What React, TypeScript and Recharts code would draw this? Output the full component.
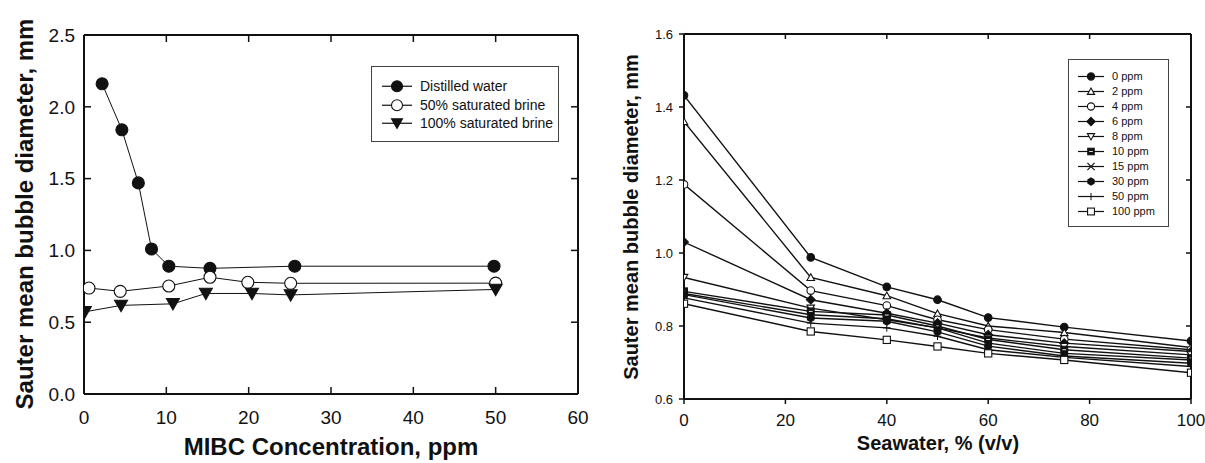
import React from "react";
import { LineChart, Line, XAxis, YAxis, Legend } from "recharts";

const FONT = '"Liberation Sans", Arial, Helvetica, sans-serif';
const INK = "#111";

// Left panel: bubble size vs MIBC concentration
const distilledConc = [2.2, 4.6, 6.6, 8.2, 10.3, 15.3, 25.6, 49.8];
const distilledDia = [2.16, 1.84, 1.47, 1.01, 0.89, 0.875, 0.89, 0.89];
const brine50Conc = [0.6, 4.4, 10.3, 15.3, 19.9, 25.1, 50.0];
const brine50Dia = [0.738, 0.715, 0.752, 0.813, 0.778, 0.771, 0.772];
const brine100Conc = [0.1, 4.5, 10.8, 14.8, 20.4, 25.1, 50.0];
const brine100Dia = [0.572, 0.617, 0.628, 0.7, 0.7, 0.69, 0.728];
const mibcTicks = [0, 10, 20, 30, 40, 50, 60];
const leftDiaTicks = [0, 0.5, 1.0, 1.5, 2.0, 2.5];

// Right panel: bubble size vs seawater fraction, one line per MIBC dose
const seawaterPct = [0, 25, 40, 50, 60, 75, 100];
const d0ppm = [1.432, 0.988, 0.907, 0.872, 0.823, 0.797, 0.759];
const d2ppm = [1.36, 0.933, 0.883, 0.834, 0.8, 0.782, 0.741];
const d4ppm = [1.188, 0.897, 0.856, 0.817, 0.79, 0.764, 0.735];
const d6ppm = [1.03, 0.872, 0.835, 0.808, 0.776, 0.753, 0.73];
const d8ppm = [0.933, 0.849, 0.817, 0.795, 0.767, 0.744, 0.721];
const d10ppm = [0.895, 0.84, 0.83, 0.8, 0.763, 0.735, 0.712];
const d15ppm = [0.889, 0.831, 0.82, 0.795, 0.753, 0.725, 0.707];
const d30ppm = [0.886, 0.822, 0.813, 0.784, 0.745, 0.718, 0.698];
const d50ppm = [0.877, 0.808, 0.795, 0.772, 0.735, 0.714, 0.689];
const d100ppm = [0.861, 0.785, 0.762, 0.744, 0.725, 0.707, 0.672];
const seawaterTicks = [0, 20, 40, 60, 80, 100];
const rightDiaTicks = [0.6, 0.8, 1.0, 1.2, 1.4, 1.6];

type Shape =
  | "circle"
  | "openCircle"
  | "triDown"
  | "triUp"
  | "openTriDown"
  | "diamond"
  | "crossSquare"
  | "x"
  | "hexagon"
  | "plus"
  | "openSquare";

const leftSeries = [
  { key: "distilled", name: "Distilled water", shape: "circle" as Shape, xs: distilledConc, ys: distilledDia },
  { key: "brine50", name: "50% saturated brine", shape: "openCircle" as Shape, xs: brine50Conc, ys: brine50Dia },
  { key: "brine100", name: "100% saturated brine", shape: "triDown" as Shape, xs: brine100Conc, ys: brine100Dia },
];

const rightSeries = [
  { key: "p0", name: "0 ppm", shape: "circle" as Shape, ys: d0ppm },
  { key: "p2", name: "2 ppm", shape: "triUp" as Shape, ys: d2ppm },
  { key: "p4", name: "4 ppm", shape: "openCircle" as Shape, ys: d4ppm },
  { key: "p6", name: "6 ppm", shape: "diamond" as Shape, ys: d6ppm },
  { key: "p8", name: "8 ppm", shape: "openTriDown" as Shape, ys: d8ppm },
  { key: "p10", name: "10 ppm", shape: "crossSquare" as Shape, ys: d10ppm },
  { key: "p15", name: "15 ppm", shape: "x" as Shape, ys: d15ppm },
  { key: "p30", name: "30 ppm", shape: "hexagon" as Shape, ys: d30ppm },
  { key: "p50", name: "50 ppm", shape: "plus" as Shape, ys: d50ppm },
  { key: "p100", name: "100 ppm", shape: "openSquare" as Shape, ys: d100ppm },
];

const rightRows = seawaterPct.map((x, i) => {
  const row: Record<string, number> = { x };
  rightSeries.forEach((s) => (row[s.key] = s.ys[i]));
  return row;
});

function marker(shape: Shape, cx: number, cy: number, s: number, key?: string | number) {
  const sw = 1.1;
  switch (shape) {
    case "circle":
      return <circle key={key} cx={cx} cy={cy} r={s} fill={INK} stroke={INK} strokeWidth={sw} />;
    case "openCircle":
      return <circle key={key} cx={cx} cy={cy} r={s} fill="#fff" stroke={INK} strokeWidth={sw} />;
    case "triDown":
      return (
        <polygon key={key} points={`${cx - s},${cy - s * 0.8} ${cx + s},${cy - s * 0.8} ${cx},${cy + s * 0.95}`} fill={INK} stroke={INK} strokeWidth={sw} />
      );
    case "openTriDown":
      return (
        <polygon key={key} points={`${cx - s},${cy - s * 0.8} ${cx + s},${cy - s * 0.8} ${cx},${cy + s * 0.95}`} fill="#fff" stroke={INK} strokeWidth={sw} />
      );
    case "triUp":
      return (
        <polygon key={key} points={`${cx},${cy - s * 0.95} ${cx + s},${cy + s * 0.8} ${cx - s},${cy + s * 0.8}`} fill="#fff" stroke={INK} strokeWidth={sw} />
      );
    case "diamond":
      return (
        <polygon key={key} points={`${cx},${cy - s * 1.15} ${cx + s * 1.15},${cy} ${cx},${cy + s * 1.15} ${cx - s * 1.15},${cy}`} fill={INK} stroke={INK} strokeWidth={sw} />
      );
    case "crossSquare":
      return (
        <g key={key}>
          <rect x={cx - s * 0.9} y={cy - s * 0.9} width={s * 1.8} height={s * 1.8} fill={INK} stroke={INK} strokeWidth={sw} />
          <line x1={cx - s * 0.5} x2={cx + s * 0.5} y1={cy} y2={cy} stroke="#fff" strokeWidth={0.9} />
        </g>
      );
    case "x":
      return (
        <g key={key} stroke={INK} strokeWidth={1.2}>
          <line x1={cx - s} y1={cy - s} x2={cx + s} y2={cy + s} />
          <line x1={cx - s} y1={cy + s} x2={cx + s} y2={cy - s} />
        </g>
      );
    case "hexagon": {
      const pts = [0, 1, 2, 3, 4, 5]
        .map((k) => {
          const a = (Math.PI / 3) * k + Math.PI / 6;
          return `${cx + s * Math.cos(a)},${cy + s * Math.sin(a)}`;
        })
        .join(" ");
      return <polygon key={key} points={pts} fill={INK} stroke={INK} strokeWidth={sw} />;
    }
    case "plus":
      return (
        <g key={key} stroke={INK} strokeWidth={1}>
          <line x1={cx - s} y1={cy} x2={cx + s} y2={cy} />
          <line x1={cx} y1={cy - s} x2={cx} y2={cy + s} />
        </g>
      );
    case "openSquare":
      return <rect key={key} x={cx - s * 0.95} y={cy - s * 0.95} width={s * 1.9} height={s * 1.9} fill="#fff" stroke={INK} strokeWidth={sw} />;
  }
}

type LegendOpts = {
  series: { key: string; name: string; shape: Shape }[];
  width: number;
  height: number;
  padTop: number;
  padLeft: number;
  rowH: number;
  lineW: number;
  gap: number;
  fontSize: number;
  size: number;
};

function makeLegend(o: LegendOpts) {
  return (props: any) => {
    const payload: any[] = props.payload || [];
    const order = o.series.map((s) => s.key);
    const items = payload
      .filter((e) => order.includes(e.dataKey))
      .sort((a, b) => order.indexOf(a.dataKey) - order.indexOf(b.dataKey));
    return (
      <div
        style={{
          boxSizing: "border-box",
          width: o.width,
          height: o.height,
          border: "1px solid #444",
          background: "#fff",
          paddingTop: o.padTop,
          paddingLeft: o.padLeft,
          fontFamily: FONT,
          fontSize: o.fontSize,
          color: INK,
        }}
      >
        {items.map((entry) => {
          const s = o.series.find((q) => q.key === entry.dataKey)!;
          return (
            <div key={s.key} style={{ display: "flex", alignItems: "center", height: o.rowH }}>
              <svg width={o.lineW} height={o.rowH} style={{ display: "block", flex: "none" }}>
                <line x1={0} x2={o.lineW} y1={o.rowH / 2} y2={o.rowH / 2} stroke={INK} strokeWidth={1.2} />
                {marker(s.shape, o.lineW / 2, o.rowH / 2, o.size)}
              </svg>
              <span style={{ marginLeft: o.gap, whiteSpace: "nowrap", lineHeight: 1 }}>{entry.value}</span>
            </div>
          );
        })}
      </div>
    );
  };
}

const axisLine = { stroke: INK, strokeWidth: 2 };
const tickLine = { stroke: INK, strokeWidth: 1.5 };
const blank = () => "";

function MibcPanel() {
  const frameData = distilledConc.map((x, i) => ({ x, frame: distilledDia[i] }));
  return (
    <LineChart width={600} height={463} margin={{ top: 34, right: 21, bottom: 0, left: 0 }}>
      <XAxis
        xAxisId="b"
        type="number"
        dataKey="x"
        domain={[0, 60]}
        ticks={mibcTicks}
        allowDataOverflow
        height={69}
        axisLine={axisLine}
        tickLine={tickLine}
        tickSize={-7}
        tickMargin={24}
        tick={{ fill: INK, fontSize: 19, fontFamily: FONT }}
        label={{
          content: () => (
            <text x={331} y={455} textAnchor="middle" fontFamily={FONT} fontSize={24} fontWeight="bold" fill={INK}>
              MIBC Concentration, ppm
            </text>
          ),
        }}
      />
      <XAxis
        xAxisId="t"
        orientation="top"
        type="number"
        dataKey="x"
        domain={[0, 60]}
        ticks={mibcTicks}
        allowDataOverflow
        height={1}
        axisLine={axisLine}
        tickLine={tickLine}
        tickSize={-7}
        tickFormatter={blank}
      />
      <YAxis
        yAxisId="l"
        type="number"
        domain={[0, 2.5]}
        ticks={leftDiaTicks}
        allowDataOverflow
        width={84}
        axisLine={axisLine}
        tickLine={tickLine}
        tickSize={-7}
        tickMargin={16}
        tickFormatter={(v: number) => v.toFixed(1)}
        tick={{ fill: INK, fontSize: 19, fontFamily: FONT }}
        label={{
          content: () => (
            <text
              x={24}
              y={214}
              transform="rotate(-90, 24, 214)"
              textAnchor="middle"
              dominantBaseline="central"
              fontFamily={FONT}
              fontSize={24}
              fontWeight="bold"
              fill={INK}
            >
              Sauter mean bubble diameter, mm
            </text>
          ),
        }}
      />
      <YAxis
        yAxisId="r"
        orientation="right"
        type="number"
        domain={[0, 2.5]}
        ticks={leftDiaTicks}
        allowDataOverflow
        width={1}
        axisLine={axisLine}
        tickLine={tickLine}
        tickSize={-7}
        tickFormatter={blank}
      />
      {/* invisible series so the top / right frame axes get drawn */}
      <Line
        xAxisId="t"
        yAxisId="r"
        dataKey="frame"
        data={frameData}
        stroke="none"
        dot={false}
        activeDot={false}
        legendType="none"
        isAnimationActive={false}
      />
      {leftSeries.map((s) => (
        <Line
          key={s.key}
          xAxisId="b"
          yAxisId="l"
          name={s.name}
          dataKey={s.key}
          data={s.xs.map((x, i) => ({ x, [s.key]: s.ys[i] }))}
          type="linear"
          stroke={INK}
          strokeWidth={1}
          isAnimationActive={false}
          activeDot={false}
          dot={(p: any) => marker(s.shape, p.cx, p.cy, s.shape === "triDown" ? 6.5 : 6, `${s.key}-${p.index}`)}
        />
      ))}
      <Legend
        layout="vertical"
        align="center"
        verticalAlign="middle"
        wrapperStyle={{ left: 371, top: 66, width: 188, height: 76 }}
        content={makeLegend({
          series: leftSeries,
          width: 188,
          height: 76,
          padTop: 10,
          padLeft: 10,
          rowH: 18.5,
          lineW: 30,
          gap: 8,
          fontSize: 14,
          size: 5.5,
        })}
      />
    </LineChart>
  );
}

function SeawaterPanel() {
  const frameData = seawaterPct.map((x, i) => ({ x, frame: d0ppm[i] }));
  return (
    <LineChart width={605} height={463} data={rightRows} margin={{ top: 33, right: 13, bottom: 0, left: 0 }}>
      <XAxis
        xAxisId="b"
        type="number"
        dataKey="x"
        domain={[0, 100]}
        ticks={seawaterTicks}
        allowDataOverflow
        height={64}
        axisLine={axisLine}
        tickLine={tickLine}
        tickSize={5}
        tickMargin={10}
        tick={{ fill: INK, fontSize: 17, fontFamily: FONT }}
        label={{
          content: () => (
            <text x={338} y={450} textAnchor="middle" fontFamily={FONT} fontSize={20} fontWeight="bold" fill={INK}>
              Seawater, % (v/v)
            </text>
          ),
        }}
      />
      <XAxis
        xAxisId="t"
        orientation="top"
        type="number"
        dataKey="x"
        domain={[0, 100]}
        ticks={seawaterTicks}
        allowDataOverflow
        height={1}
        axisLine={axisLine}
        tickLine={tickLine}
        tickSize={-5}
        tickFormatter={blank}
      />
      <YAxis
        yAxisId="l"
        type="number"
        domain={[0.6, 1.6]}
        ticks={rightDiaTicks}
        allowDataOverflow
        width={84}
        axisLine={axisLine}
        tickLine={tickLine}
        tickSize={5}
        tickMargin={6}
        tickFormatter={(v: number) => v.toFixed(1)}
        tick={{ fill: INK, fontSize: 13, fontFamily: FONT }}
        label={{
          content: () => (
            <text
              x={31}
              y={217}
              transform="rotate(-90, 31, 217)"
              textAnchor="middle"
              dominantBaseline="central"
              fontFamily={FONT}
              fontSize={20}
              fontWeight="bold"
              fill={INK}
            >
              Sauter mean bubble diameter, mm
            </text>
          ),
        }}
      />
      <YAxis
        yAxisId="r"
        orientation="right"
        type="number"
        domain={[0.6, 1.6]}
        ticks={rightDiaTicks}
        allowDataOverflow
        width={1}
        axisLine={axisLine}
        tickLine={tickLine}
        tickSize={-5}
        tickFormatter={blank}
      />
      {/* invisible series so the top / right frame axes get drawn */}
      <Line
        xAxisId="t"
        yAxisId="r"
        dataKey="frame"
        data={frameData}
        stroke="none"
        dot={false}
        activeDot={false}
        legendType="none"
        isAnimationActive={false}
      />
      {rightSeries.map((s) => (
        <Line
          key={s.key}
          xAxisId="b"
          yAxisId="l"
          name={s.name}
          dataKey={s.key}
          type="linear"
          stroke={INK}
          strokeWidth={1.4}
          isAnimationActive={false}
          activeDot={false}
          dot={(p: any) => marker(s.shape, p.cx, p.cy, 3.8, `${s.key}-${p.index}`)}
        />
      ))}
      <Legend
        layout="vertical"
        align="center"
        verticalAlign="middle"
        wrapperStyle={{ left: 468, top: 59, width: 101, height: 168 }}
        content={makeLegend({
          series: rightSeries,
          width: 101,
          height: 168,
          padTop: 8.5,
          padLeft: 9,
          rowH: 15,
          lineW: 26,
          gap: 8,
          fontSize: 11,
          size: 3.6,
        })}
      />
    </LineChart>
  );
}

export default function App() {
  return (
    <div style={{ position: "absolute", left: 0, top: 0, width: 1205, height: 463, background: "#fff", overflow: "hidden" }}>
      <div style={{ position: "absolute", left: 0, top: 0 }}>
        <MibcPanel />
      </div>
      <div style={{ position: "absolute", left: 600, top: 0 }}>
        <SeawaterPanel />
      </div>
    </div>
  );
}
